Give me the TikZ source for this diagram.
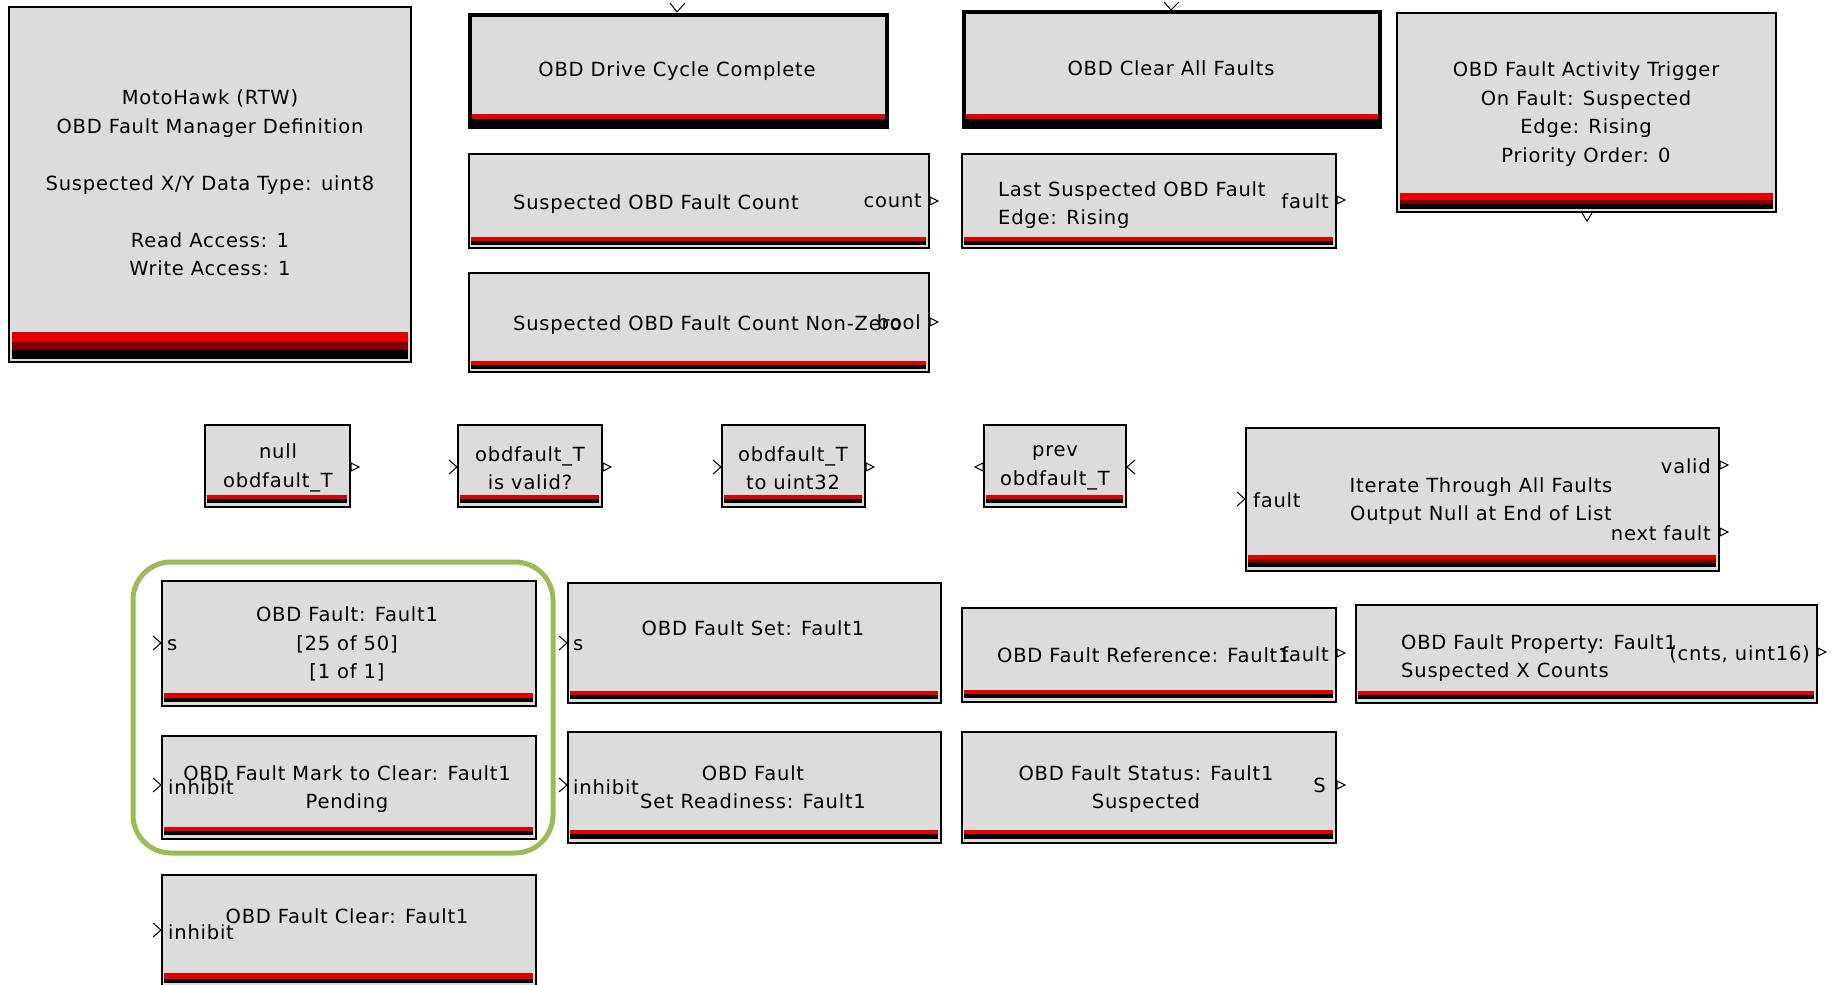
\documentclass[tikz,border=0pt]{standalone}
\usepackage{fontspec}
\newfontfamily\simfont[LetterSpace=4]{DejaVu Sans}
\newcommand{\blkfont}{\simfont\fontsize{19.5}{28.5}\selectfont}
\definecolor{blkgray}{RGB}{220,220,220}
\definecolor{bandred}{RGB}{228,0,0}
\definecolor{banddark}{RGB}{125,0,0}
\definecolor{grpgreen}{RGB}{155,187,89}

\begin{document}
\begin{tikzpicture}[x=1pt,y=-1pt,
        blk/.style={fill=blkgray,draw=black,line width=1.5pt},
        blkthick/.style={fill=blkgray,draw=black,line width=4pt},
        red band/.style={fill=bandred},
        dark band/.style={fill=banddark},
        black band/.style={fill=black},
        port/.style={draw=black,line width=1pt},
        grp/.style={draw=grpgreen,line width=5pt,rounded corners=38pt},
        txt/.style={font=\blkfont,inner sep=0pt,align=center},
        txtl/.style={font=\blkfont,inner sep=0pt,align=left,anchor=west}]
        \useasboundingbox (0,0) rectangle (1837,985);
        \clip (0,0) rectangle (1837,985);

        % Blocks
        \draw [blk] (9,7) rectangle (411,362);
        \draw [blkthick] (470,15) rectangle (887,127);
        \draw [blkthick] (964,12) rectangle (1380,127);
        \draw [blk] (1397,13) rectangle (1776,212);
        \draw [blk] (469,154) rectangle (929,248);
        \draw [blk] (962,154) rectangle (1336,248);
        \draw [blk] (469,273) rectangle (929,372);
        \draw [blk] (205,425) rectangle (350,507);
        \draw [blk] (458,425) rectangle (602,507);
        \draw [blk] (722,425) rectangle (865,507);
        \draw [blk] (984,425) rectangle (1126,507);
        \draw [blk] (1246,428) rectangle (1719,571);
        \draw [blk] (162,581) rectangle (536,706);
        \draw [blk] (162,736) rectangle (536,839);
        \draw [blk] (162,875) rectangle (536,995);
        \draw [blk] (568,583) rectangle (941,703);
        \draw [blk] (568,732) rectangle (941,843);
        \draw [blk] (962,608) rectangle (1336,702);
        \draw [blk] (962,732) rectangle (1336,843);
        \draw [blk] (1356,605) rectangle (1817,703);

        % Bands
        \path [red band]   (12,332) rectangle (408,342);
        \path [dark band]  (12,342) rectangle (408,350);
        \path [black band] (12,350) rectangle (408,359);
        \path [red band]   (472,114) rectangle (885,119);
        \path [black band] (472,119) rectangle (885,125);
        \path [red band]   (966,114) rectangle (1378,119);
        \path [black band] (966,119) rectangle (1378,125);
        \path [red band]   (1400,193) rectangle (1773,200);
        \path [dark band]  (1400,200) rectangle (1773,204);
        \path [black band] (1400,204) rectangle (1773,209);
        \path [red band]   (471,237) rectangle (926,241);
        \path [black band] (471,241) rectangle (926,245);
        \path [red band]   (964,237) rectangle (1333,241);
        \path [black band] (964,241) rectangle (1333,245);
        \path [red band]   (471,361) rectangle (926,365);
        \path [black band] (471,365) rectangle (926,369);
        \path [red band]   (207,495) rectangle (347,499);
        \path [black band] (207,499) rectangle (347,503);
        \path [red band]   (460,495) rectangle (599,499);
        \path [black band] (460,499) rectangle (599,503);
        \path [red band]   (724,495) rectangle (862,499);
        \path [black band] (724,499) rectangle (862,503);
        \path [red band]   (986,495) rectangle (1123,499);
        \path [black band] (986,499) rectangle (1123,503);
        \path [red band]   (1248,555) rectangle (1716,559);
        \path [dark band]  (1248,559) rectangle (1716,563);
        \path [black band] (1248,563) rectangle (1716,567);
        \path [red band]   (164,693) rectangle (533,698);
        \path [black band] (164,698) rectangle (533,702);
        \path [red band]   (164,827) rectangle (533,831);
        \path [black band] (164,831) rectangle (533,835);
        \path [red band]   (164,973) rectangle (533,979);
        \path [black band] (164,979) rectangle (533,983);
        \path [red band]   (570,691) rectangle (938,695);
        \path [black band] (570,695) rectangle (938,699);
        \path [red band]   (570,830) rectangle (938,834);
        \path [black band] (570,834) rectangle (938,839);
        \path [red band]   (964,690) rectangle (1333,694);
        \path [black band] (964,694) rectangle (1333,698);
        \path [red band]   (964,830) rectangle (1333,834);
        \path [black band] (964,834) rectangle (1333,839);
        \path [red band]   (1358,691) rectangle (1814,695);
        \path [black band] (1358,695) rectangle (1814,699);

        % Ports
        \draw [port] (670,3) -- (677,12) -- (685,3);
        \draw [port] (1164,2) -- (1171,10) -- (1179,2);
        \draw [port] (1582,213) -- (1587,221) -- (1592,213);
        \draw [port] (930,197) -- (938,201) -- (930,205) -- cycle;
        \draw [port] (1337,196) -- (1345,200) -- (1337,204) -- cycle;
        \draw [port] (930,318) -- (938,322) -- (930,326) -- cycle;
        \draw [port] (351,463) -- (359,467) -- (351,471) -- cycle;
        \draw [port] (449,460) -- (457,467) -- (449,474);
        \draw [port] (603,463) -- (611,467) -- (603,471) -- cycle;
        \draw [port] (713,460) -- (721,467) -- (713,474);
        \draw [port] (866,463) -- (874,467) -- (866,471) -- cycle;
        \draw [port] (983,463) -- (975,467) -- (983,471) -- cycle;
        \draw [port] (1135,460) -- (1127,467) -- (1135,474);
        \draw [port] (1237,492) -- (1245,499) -- (1237,506);
        \draw [port] (1720,461) -- (1728,465) -- (1720,469) -- cycle;
        \draw [port] (1720,528) -- (1728,532) -- (1720,536) -- cycle;
        \draw [port] (153,636) -- (161,643) -- (153,650);
        \draw [port] (153,778) -- (161,785) -- (153,792);
        \draw [port] (153,923) -- (161,930) -- (153,937);
        \draw [port] (559,636) -- (567,643) -- (559,650);
        \draw [port] (559,778) -- (567,785) -- (559,792);
        \draw [port] (1337,649) -- (1345,653) -- (1337,657) -- cycle;
        \draw [port] (1337,781) -- (1345,785) -- (1337,789) -- cycle;
        \draw [port] (1818,648) -- (1826,652) -- (1818,656) -- cycle;

        % Group frame
        \draw [grp] (133,562) rectangle (553,853);

        % Labels
        \node [txt] (motohawk) at (210,183) {MotoHawk (RTW)\\OBD Fault Manager Definition\\[28.5pt]
            Suspected X/Y Data Type: uint8\\[28.5pt]Read Access: 1\\Write Access: 1};
        \node [txt] (drivecycle) at (677,71) {OBD Drive Cycle Complete};
        \node [txt] (clearall) at (1171,68) {OBD Clear All Faults};
        \node [txt] (trigger) at (1586,114) {OBD Fault Activity Trigger\\On Fault: Suspected\\
            Edge: Rising\\Priority Order: 0};
        \node [txtl] (suspcount) at (513,204) {Suspected OBD Fault Count};
        \node [txt,anchor=east] (countlbl) at (922,201) {count};
        \node [txtl] (lastsusp) at (998,205) {Last Suspected OBD Fault\\Edge: Rising};
        \node [txt,anchor=east] (lastfaultlbl) at (1329,201) {fault};
        \node [txtl] (nonzero) at (513,325) {Suspected OBD Fault Count Non-Zero};
        \node [txt,anchor=east] (boollbl) at (921,322) {bool};
        \node [txt] (nullfault) at (278,468) {null\\obdfault\_T};
        \node [txt] (isvalid) at (530,468) {obdfault\_T\\is valid?};
        \node [txt] (touint) at (793,468) {obdfault\_T\\to uint32};
        \node [txt] (prevfault) at (1055,468) {prev\\obdfault\_T};
        \node [txt] (iterate) at (1481,501) {Iterate Through All Faults\\Output Null at End of List};
        \node [txtl] (iterfaultlbl) at (1253,500) {fault};
        \node [txt,anchor=east] (validlbl) at (1711,466) {valid};
        \node [txt,anchor=east] (nextlbl) at (1711,533) {next fault};
        \node [txt] (faultdef) at (347,644) {OBD Fault: Fault1\\{[25 of 50]}\\{[1 of 1]}};
        \node [txtl] (slbl) at (167,645) {s};
        \node [txt] (marktoclear) at (347,789) {OBD Fault Mark to Clear: Fault1\\Pending};
        \node [txtl] (inhibitmark) at (168,787) {inhibit};
        \node [txt] (faultclear) at (347,916) {OBD Fault Clear: Fault1};
        \node [txtl] (inhibitclear) at (168,932) {inhibit};
        \node [txt] (faultset) at (753,628) {OBD Fault Set: Fault1};
        \node [txtl] (setslbl) at (573,645) {s};
        \node [txt] (readiness) at (753,787) {OBD Fault\\Set Readiness: Fault1};
        \node [txtl] (inhibitready) at (573,787) {inhibit};
        \node [txtl] (faultref) at (997,655) {OBD Fault Reference: Fault1};
        \node [txt,anchor=east] (reffaultlbl) at (1329,654) {fault};
        \node [txt] (faultstatus) at (1146,789) {OBD Fault Status: Fault1\\Suspected};
        \node [txt,anchor=east] (statuslbl) at (1326,785) {S};
        \node [txtl] (faultprop) at (1401,658) {OBD Fault Property: Fault1\\Suspected X Counts};
        \node [txt,anchor=east] (proplbl) at (1810,654) {(cnts, uint16)};
    \end{tikzpicture}
\end{document}
